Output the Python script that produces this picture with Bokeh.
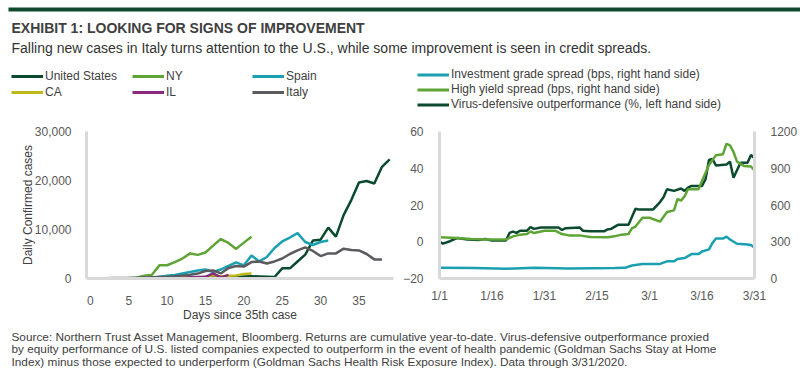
import pandas as pd
from bokeh.plotting import figure
from bokeh.models import (Range1d, LinearAxis, Legend, LegendItem, Label, BoxAnnotation,
                          FixedTicker, NumeralTickFormatter)
from bokeh.layouts import column, row
from bokeh.embed import file_html
from bokeh.resources import INLINE

FONT = "Liberation Sans"
NAN = float("nan")

# ---------------- text ----------------
title_text = "EXHIBIT 1: LOOKING FOR SIGNS OF IMPROVEMENT"
subtitle_text = ("Falling new cases in Italy turns attention to the U.S., while some "
                 "improvement is seen in credit spreads.")
footnote_lines = [
    "Source: Northern Trust Asset Management, Bloomberg. Returns are cumulative year-to-date. "
    "Virus-defensive outperformance proxied",
    "by equity performance of U.S. listed companies expected to outperform in the event of health "
    "pandemic (Goldman Sachs Stay at Home",
    "Index) minus those expected to underperform (Goldman Sachs Health Risk Exposure Index). "
    "Data through 3/31/2020.",
]

# ---------------- left chart: daily confirmed cases by days since 35th case ----------------
us_cases = [0, 5, 5, 10, 10, 15, 20, 20, 25, 30,
            40, 50, 60, 80, 100, 150, 200, 250, 300, 350,
            400, 450, 400, 350, 300, 2070, 2070, 3480, 4880, 7740,
            7930, 10370, 8540, 12940, 16000, 19600, 19900, 19400, 22800, 24300]
ny_cases = [50, 20, 30, 40, 60, 90, 150, 550, 730, 2680,
            2700, 3350, 4080, 5120, 4820, 5300, 6700, 8050, 7260, 6040,
            7320, 8540]
spain_cases = [0, 10, 10, 20, 30, 40, 60, 100, 150, 370,
               550, 730, 1040, 1340, 1650, 1830, 1340, 1830, 2560, 3290,
               2690, 4700, 3480, 4390, 6220, 7560, 8360, 9270, 7450, 6830,
               7450, 7740]
ca_cases = [0, 0, 5, 10, 15, 20, 30, 40, 50, 60,
            80, 100, 150, 180, 200, 300, 700, 400, 550, 600,
            900, 1000]
il_cases = [0, 0, 0, 5, 5, 10, 15, 20, 30, 50,
            80, 100, 150, 250, 300, 350, 1040, 240, 730]
italy_cases = [50, 60, 60, 80, 90, 100, 150, 200, 250, 300,
               350, 450, 600, 750, 1000, 1520, 1650, 1040, 2140, 2560,
               2430, 3350, 3480, 3060, 3480, 4080, 5000, 5730, 6350, 5620,
               4580, 5120, 5120, 6090, 5800, 5730, 5000, 3900, 3900]
left_x_ticks = [0, 5, 10, 15, 20, 25, 30, 35]
left_y_ticks = [0, 10000, 20000, 30000]

# ---------------- right chart: 2020 daily series ----------------
vd_dates = ["1/1", "1/2", "1/4", "1/6", "1/9", "1/12", "1/14", "1/16", "1/20", "1/21",
            "1/22", "1/23", "1/24", "1/26", "1/27", "1/28", "1/30", "2/4", "2/5", "2/6",
            "2/10", "2/11", "2/13", "2/17", "2/18", "2/19", "2/21", "2/24", "2/26", "2/27",
            "3/2", "3/4", "3/5", "3/6", "3/8", "3/10", "3/11", "3/12", "3/13", "3/16",
            "3/17", "3/18", "3/19", "3/20", "3/23", "3/24", "3/25", "3/27", "3/29", "3/30",
            "3/31"]
vd_pct = [0, -1, 0.3, 2, 1.2, 1, 1.5, 0.7, 0.7, 4.8,
          5.5, 4.8, 6, 6, 8, 7, 7.8, 7.8, 6.4, 7.4,
          7.8, 6, 5.7, 5.7, 6.7, 7, 9.2, 9.2, 18, 17.5,
          17.5, 21.6, 24.2, 28.6, 27.7, 29, 27.7, 29.5, 30.4, 30.4,
          34, 44.5, 45, 41.5, 42, 43.6, 34.8, 43, 43, 47.2,
          45.4]
hy_dates = ["1/1", "1/6", "1/10", "1/15", "1/20", "1/22", "1/24", "1/26", "1/27", "1/28",
            "1/31", "2/3", "2/5", "2/7", "2/10", "2/13", "2/18", "2/20", "2/22", "2/24",
            "2/25", "2/26", "2/28", "3/1", "3/4", "3/6", "3/8", "3/9", "3/10", "3/11",
            "3/12", "3/15", "3/16", "3/18", "3/20", "3/22", "3/23", "3/24", "3/25", "3/26",
            "3/28", "3/30", "3/31"]
hy_bps = [336, 331, 323, 318, 318, 344, 358, 363, 384, 371,
          390, 390, 363, 352, 352, 339, 336, 344, 358, 363,
          411, 424, 496, 496, 464, 543, 556, 649, 636, 670,
          729, 729, 795, 927, 1007, 1015, 1100, 1086, 1033, 954,
          919, 914, 882]
ig_dates = ["1/1", "1/11", "1/20", "1/28", "2/7", "2/20", "2/23", "2/25", "2/28", "3/4",
            "3/6", "3/8", "3/9", "3/11", "3/13", "3/15", "3/16", "3/18", "3/19", "3/20",
            "3/22", "3/23", "3/24", "3/26", "3/29", "3/30", "3/31"]
ig_bps = [87, 85, 80, 87, 82, 85, 87, 106, 119, 119,
          140, 140, 159, 167, 199, 199, 220, 238, 291, 326,
          326, 342, 318, 284, 278, 273, 252]
right_tick_dates = ["1/1", "1/16", "1/31", "2/15", "3/1", "3/16", "3/31"]
left_pct_ticks = [-20, 0, 20, 40, 60]
right_bps_ticks = [0, 300, 600, 900, 1200]

# ---------------- styling ----------------
C_US = "#0b4a2e"
C_NY = "#5ea536"
C_SPAIN = "#1aa0b0"
C_CA = "#bfb81a"
C_IL = "#8b2a7d"
C_ITALY = "#5b5b5f"
C_BAR = "#0e4a2f"
AXIS_GRAY = "#d9d9d9"
TICK_COLOR = "#595959"
TEXT_COLOR = "#404040"
LW = 2.5

left_series = [("United States", us_cases, C_US), ("NY", ny_cases, C_NY),
               ("Spain", spain_cases, C_SPAIN), ("CA", ca_cases, C_CA),
               ("IL", il_cases, C_IL), ("Italy", italy_cases, C_ITALY)]
right_series_names = ["Investment grade spread (bps, right hand side)",
                      "High yield spread (bps, right hand side)",
                      "Virus-defensive outperformance (%, left hand side)"]
right_series_colors = [C_SPAIN, C_NY, C_US]


def day_of_year(md_list):
    d = pd.to_datetime(["2020/" + s for s in md_list], format="%Y/%m/%d")
    return [int(v) for v in (d - pd.Timestamp("2020-01-01")).days]


def style_axis(ax, standoff):
    ax.axis_line_color = AXIS_GRAY
    ax.axis_line_width = 3
    ax.major_tick_line_color = None
    ax.minor_tick_line_color = None
    ax.major_label_text_font = FONT
    ax.major_label_text_font_size = "12px"
    ax.major_label_text_color = TICK_COLOR
    ax.major_label_standoff = standoff
    ax.axis_label_text_font = FONT
    ax.axis_label_text_font_size = "12px"
    ax.axis_label_text_font_style = "normal"
    ax.axis_label_text_color = TEXT_COLOR


def make_legend(items, vx, vy, row_h):
    return Legend(items=items, location=(vx, vy), orientation="vertical", padding=0,
                  margin=0, spacing=0, glyph_width=32, glyph_height=row_h,
                  label_height=row_h, label_standoff=2, label_text_font=FONT,
                  label_text_font_size="12px", label_text_color=TEXT_COLOR,
                  background_fill_alpha=0, border_line_alpha=0)


# ---------------- header (title, subtitle, legends) ----------------
HEAD_H = 112
header = figure(width=800, height=HEAD_H, x_range=Range1d(0, 800), y_range=Range1d(HEAD_H, 0),
                x_axis_type=None, y_axis_type=None, output_backend="svg", toolbar_location=None,
                min_border=0, outline_line_color=None)
header.grid.visible = False
header.add_layout(BoxAnnotation(left=8, right=800, top=7, bottom=11, fill_color=C_BAR,
                                fill_alpha=1, line_alpha=0))
header.add_layout(Label(x=11, y=27, text=title_text, text_baseline="middle", text_font=FONT,
                        text_font_size="14px", text_font_style="bold", text_color=TEXT_COLOR))
header.add_layout(Label(x=11, y=47, text=subtitle_text, text_baseline="middle", text_font=FONT,
                        text_font_size="14px", text_color="#333333"))

# legend keys: line styles of the chart series (a single NaN point, so nothing is plotted)
key = {}
for name, _, col in left_series:
    key[name] = header.line(x=[NAN], y=[NAN], line_color=col, line_width=3)
for name, col in zip(right_series_names, right_series_colors):
    key[name] = header.line(x=[NAN], y=[NAN], line_color=col, line_width=3)

# left legend: three columns at x 11 / 132 / 252, rows centred at y 76 and 92
for col_x, pair in zip([11, 132, 252], [("United States", "CA"), ("NY", "IL"), ("Spain", "Italy")]):
    header.add_layout(make_legend([LegendItem(label=n, renderers=[key[n]]) for n in pair],
                                  col_x, HEAD_H - 100, 16))
# right legend at x 417, rows centred at y 74 / 89 / 104
header.add_layout(make_legend([LegendItem(label=n, renderers=[key[n]]) for n in right_series_names],
                              417, HEAD_H - 111.5, 15))

# ---------------- left chart ----------------
CH_H = 324 - HEAD_H
left = figure(width=400, height=CH_H, x_range=Range1d(-0.5, 39.5), y_range=Range1d(0, 30000),
              output_backend="svg", toolbar_location=None,
              min_border_left=86, min_border_right=7, min_border_top=120 - HEAD_H,
              min_border_bottom=39, outline_line_color=None)
left.grid.visible = False
style_axis(left.xaxis[0], 11)
style_axis(left.yaxis[0], 9)
left.xaxis[0].ticker = FixedTicker(ticks=left_x_ticks)
left.yaxis[0].ticker = FixedTicker(ticks=left_y_ticks)
left.yaxis[0].formatter = NumeralTickFormatter(format="0,0")
left.xaxis[0].axis_label = "Days since 35th case"
left.xaxis[0].axis_label_standoff = 0
left.yaxis[0].axis_label = "Daily Confirmed cases"
left.yaxis[0].axis_label_standoff = -3

for name, vals, col in left_series:
    left.line(list(range(len(vals))), vals, line_color=col, line_width=LW)

# ---------------- right chart ----------------
right = figure(width=400, height=CH_H, x_range=Range1d(0, 90), y_range=Range1d(-20, 60),
               output_backend="svg", toolbar_location=None,
               min_border_left=36, min_border_right=46, min_border_top=131 - HEAD_H,
               min_border_bottom=42, outline_line_color=None)
right.grid.visible = False
right.extra_y_ranges = {"bps": Range1d(0, 1200)}
bps_axis = LinearAxis(y_range_name="bps")
right.add_layout(bps_axis, "right")
style_axis(right.xaxis[0], 4)
style_axis(right.yaxis[0], 10)
style_axis(bps_axis, 10)
tick_days = day_of_year(right_tick_dates)
right.xaxis[0].ticker = FixedTicker(ticks=tick_days)
right.xaxis[0].major_label_overrides = {d: s for d, s in zip(tick_days, right_tick_dates)}
right.yaxis[0].ticker = FixedTicker(ticks=left_pct_ticks)
bps_axis.ticker = FixedTicker(ticks=right_bps_ticks)

right.line(day_of_year(vd_dates), vd_pct, line_color=C_US, line_width=LW)
right.line(day_of_year(ig_dates), ig_bps, line_color=C_SPAIN, line_width=LW, y_range_name="bps")
right.line(day_of_year(hy_dates), hy_bps, line_color=C_NY, line_width=LW, y_range_name="bps")

# ---------------- footer ----------------
FOOT_H = 376 - 324
footer = figure(width=800, height=FOOT_H, x_range=Range1d(0, 800), y_range=Range1d(FOOT_H, 0),
                x_axis_type=None, y_axis_type=None, output_backend="svg", toolbar_location=None,
                min_border=0, outline_line_color=None)
footer.grid.visible = False
for i, line in enumerate(footnote_lines):
    footer.add_layout(Label(x=11, y=12 + 12.5 * i, text=line, text_baseline="middle",
                            text_font=FONT, text_font_size="11.8px", text_color=TEXT_COLOR))

layout = column(header, row(left, right), footer)
open("out.html", "w").write(file_html(layout, INLINE))
